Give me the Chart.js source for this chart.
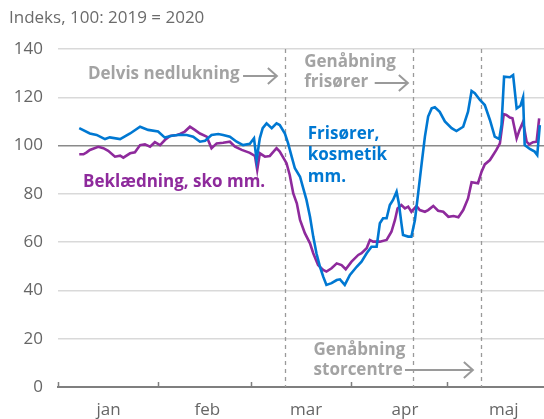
<!DOCTYPE html>
<html>
<head>
<meta charset="utf-8">
<script src="https://cdn.jsdelivr.net/npm/chart.js@4/dist/chart.umd.min.js"></script>
<style>
  html, body { margin: 0; padding: 0; background: #ffffff; }
  #wrap { width: 544px; height: 419px; position: relative; }
</style>
</head>
<body>
<div id="wrap"><canvas id="c" width="544" height="419"></canvas></div>
<script>
// ---- Data (day index: 0 = 1 January 2020) ----
const monthLabels = ['jan', 'feb', 'mar', 'apr', 'maj'];
const monthLabelDays = [15.7, 46.4, 77.1, 107.8, 138.5];
const monthStartDays = [0, 31, 60, 91, 121];
const eventDays = [70.4, 110.4, 131.3];
const yTicks = [0, 20, 40, 60, 80, 100, 120, 140];

const frisorDays = [6.6, 9.9, 12.0, 14.6, 16.1, 19.3, 22.4, 25.5, 28.0, 31.1, 33.2, 35.3, 37.9, 40.0, 42.0, 44.1, 45.7, 47.7, 49.8, 51.3, 53.4, 55.5, 57.5, 59.6, 60.9, 61.7, 62.7, 63.6, 64.8, 66.4, 67.9, 68.9, 70.5, 71.5, 72.6, 73.6, 75.2, 76.2, 77.2, 78.3, 79.3, 80.3, 81.4, 82.4, 83.4, 85.0, 86.6, 87.6, 89.1, 90.7, 92.8, 94.3, 95.9, 97.4, 99.0, 100.0, 101.0, 102.1, 103.1, 104.1, 105.2, 105.9, 106.7, 107.2, 108.8, 109.8, 110.9, 111.9, 113.0, 114.0, 115.0, 116.1, 117.1, 118.6, 120.2, 122.3, 123.8, 125.9, 127.4, 128.5, 129.5, 131.1, 132.6, 134.2, 135.7, 137.1, 137.8, 138.6, 140.4, 141.4, 142.5, 143.7, 144.5, 145.0, 146.6, 148.1, 148.9, 149.7];
const frisorValues = [107.2, 105.0, 104.4, 102.7, 103.4, 102.7, 105.0, 107.8, 106.5, 105.8, 103.3, 104.1, 104.5, 104.4, 103.7, 101.6, 102.0, 104.4, 104.8, 104.4, 103.7, 101.6, 100.2, 100.7, 103.0, 94.0, 103.0, 107.2, 109.2, 107.2, 109.2, 108.5, 105.0, 100.9, 95.4, 90.6, 87.1, 82.3, 77.5, 70.5, 62.3, 55.4, 49.8, 45.7, 42.3, 43.0, 44.3, 44.6, 42.3, 46.4, 49.8, 51.9, 55.4, 58.1, 58.1, 67.8, 69.9, 69.9, 75.4, 77.5, 80.9, 76.1, 67.8, 63.0, 62.3, 62.3, 69.2, 80.2, 92.7, 103.7, 112.0, 115.4, 115.9, 114.0, 110.0, 107.2, 106.0, 107.8, 114.0, 122.6, 121.7, 118.9, 116.8, 110.6, 103.7, 102.7, 108.5, 128.5, 128.3, 129.2, 115.4, 116.5, 120.0, 100.2, 98.6, 97.5, 96.1, 108.5];

const beklDays = [6.6, 7.9, 8.9, 9.9, 12.5, 14.1, 15.6, 17.7, 19.3, 20.3, 22.4, 23.9, 25.5, 27.0, 28.6, 30.1, 31.7, 33.2, 34.8, 36.9, 37.9, 39.4, 41.0, 42.5, 44.1, 46.2, 47.7, 49.3, 51.3, 53.4, 55.0, 57.1, 59.6, 61.2, 61.9, 62.7, 64.3, 65.8, 67.9, 68.9, 71.0, 72.0, 73.1, 74.2, 75.2, 76.7, 78.3, 79.3, 80.8, 82.4, 83.4, 85.0, 86.6, 88.1, 89.4, 91.2, 93.3, 94.3, 95.9, 96.9, 97.9, 100.0, 102.1, 103.6, 104.7, 105.5, 106.7, 107.8, 108.8, 109.8, 111.4, 112.4, 114.0, 115.0, 116.6, 118.1, 119.7, 121.3, 122.9, 124.4, 125.9, 127.4, 128.5, 130.5, 131.6, 132.6, 134.2, 135.2, 136.2, 137.3, 138.5, 139.3, 140.4, 141.2, 142.5, 143.4, 144.5, 145.6, 146.4, 147.6, 148.7, 149.5];
const beklValues = [96.4, 96.4, 97.2, 98.2, 99.5, 98.9, 97.8, 95.4, 95.8, 95.0, 96.8, 97.2, 100.2, 100.5, 99.5, 101.4, 100.2, 102.3, 104.0, 104.4, 104.8, 105.8, 107.8, 106.5, 105.0, 103.7, 98.9, 100.9, 101.2, 101.6, 99.5, 98.2, 97.0, 95.7, 89.9, 96.8, 95.4, 95.7, 98.9, 97.5, 92.7, 87.8, 80.2, 76.1, 69.2, 63.7, 59.5, 55.4, 50.5, 48.5, 47.8, 49.2, 51.2, 50.5, 48.8, 51.9, 54.7, 55.4, 57.5, 60.9, 60.2, 60.2, 60.9, 64.3, 69.2, 74.0, 75.4, 74.0, 74.7, 72.6, 75.0, 73.3, 72.6, 73.3, 75.0, 73.0, 72.6, 70.5, 70.8, 70.3, 73.3, 78.1, 84.8, 84.4, 89.2, 92.2, 94.0, 96.1, 98.2, 100.9, 113.0, 112.7, 111.6, 111.3, 103.0, 106.5, 109.9, 101.6, 100.5, 101.4, 101.6, 111.3];

// ---- Styling ----
const BLUE = '#0078d2';
const PURPLE = '#8e2a9c';
const GREY_TXT = '#a3a3a3';
const FONT = '"Open Sans", "Noto Sans", sans-serif';

function toPoints(xs, ys) { return xs.map((x, i) => ({ x: x, y: ys[i] })); }

// Annotation placement (in data coordinates)
const textNotes = [
  { lines: ['Delvis nedlukning'], day: 9.3, values: [129.7], color: GREY_TXT },
  { lines: ['Genåbning', 'frisører'], day: 76.5, values: [134.6, 126.3], color: GREY_TXT },
  { lines: ['Genåbning', 'storcentre'], day: 79.4, values: [15.3, 7.0], color: GREY_TXT },
  { lines: ['Frisører,', 'kosmetik', 'mm.'], day: 77.6, values: [104.8, 96.1, 87.1], color: BLUE },
  { lines: ['Beklædning, sko mm.'], day: 7.8, values: [85.0], color: PURPLE }
];
const arrows = [
  { from: 57.5, to: 68.0, value: 128.8 },
  { from: 98.4, to: 108.7, value: 125.9 },
  { from: 107.8, to: 128.9, value: 7.0 }
];

const decorPlugin = {
  id: 'decor',
  beforeDatasetsDraw(chart) {
    const ctx = chart.ctx, xs = chart.scales.x, ys = chart.scales.y;
    ctx.save();
    ctx.strokeStyle = '#9a9a9a';
    ctx.lineWidth = 1.3;
    ctx.setLineDash([4, 4]);
    eventDays.forEach(d => {
      const px = Math.round(xs.getPixelForValue(d)) + 0.5;
      ctx.beginPath();
      ctx.moveTo(px, ys.getPixelForValue(140));
      ctx.lineTo(px, ys.getPixelForValue(0));
      ctx.stroke();
    });
    ctx.setLineDash([]);
    ctx.strokeStyle = '#7f7f7f';
    ctx.lineWidth = 1.5;
    const y0 = ys.getPixelForValue(0);
    monthStartDays.forEach(d => {
      const px = Math.round(xs.getPixelForValue(d)) + 0.5;
      ctx.beginPath();
      ctx.moveTo(px, y0);
      ctx.lineTo(px, y0 - 5);
      ctx.stroke();
    });
    ctx.restore();
  },
  afterDraw(chart) {
    const ctx = chart.ctx, xs = chart.scales.x, ys = chart.scales.y;
    ctx.save();
    ctx.font = '17px ' + FONT;
    ctx.fillStyle = '#6b6b6b';
    ctx.textBaseline = 'middle';
    ctx.textAlign = 'left';
    ctx.fillText('Indeks, 100: 2019 = 2020', 9, 18);
    ctx.font = 'bold 17px ' + FONT;
    textNotes.forEach(n => {
      ctx.fillStyle = n.color;
      n.lines.forEach((t, i) => {
        ctx.fillText(t, xs.getPixelForValue(n.day), ys.getPixelForValue(n.values[i]));
      });
    });
    ctx.strokeStyle = '#9a9a9a';
    ctx.lineWidth = 2;
    arrows.forEach(a => {
      const x1 = xs.getPixelForValue(a.from), x2 = xs.getPixelForValue(a.to);
      const y = ys.getPixelForValue(a.value);
      ctx.beginPath();
      ctx.moveTo(x1, y);
      ctx.lineTo(x2, y);
      ctx.moveTo(x2 - 9, y - 8);
      ctx.lineTo(x2, y);
      ctx.lineTo(x2 - 9, y + 8);
      ctx.stroke();
    });
    ctx.restore();
  }
};

new Chart(document.getElementById('c'), {
  type: 'line',
  data: {
    datasets: [
      { label: 'Frisører, kosmetik mm.', data: toPoints(frisorDays, frisorValues),
        borderColor: BLUE, borderWidth: 2.6, pointRadius: 0, tension: 0, fill: false },
      { label: 'Beklædning, sko mm.', data: toPoints(beklDays, beklValues),
        borderColor: PURPLE, borderWidth: 2.6, pointRadius: 0, tension: 0, fill: false }
    ]
  },
  options: {
    responsive: false,
    animation: false,
    events: [],
    layout: { padding: { top: 49, right: 0, bottom: 0, left: 0 } },
    plugins: { legend: { display: false }, tooltip: { enabled: false }, title: { display: false } },
    scales: {
      x: {
        type: 'linear', min: 0, max: 151,
        afterBuildTicks: s => { s.ticks = monthLabelDays.map(v => ({ value: v })); },
        afterFit: s => { s.height = 32; },
        ticks: {
          autoSkip: false, maxRotation: 0, padding: 5,
          color: '#666666', font: { family: FONT, size: 17 },
          callback: (v, i) => monthLabels[i]
        },
        grid: { display: false },
        border: { display: true, color: '#7f7f7f', width: 2 }
      },
      y: {
        min: 0, max: 140,
        afterBuildTicks: s => { s.ticks = yTicks.map(v => ({ value: v })); },
        afterFit: s => { s.width = 58; },
        ticks: { padding: 15, color: '#666666', font: { family: FONT, size: 17 } },
        grid: {
          drawTicks: false, tickLength: 0,
          lineWidth: 1.5,
          color: c => c.tick.value === 100 ? '#8a8a8a' : (c.tick.value === 0 ? 'rgba(0,0,0,0)' : '#d9d9d9')
        },
        border: { display: false }
      }
    }
  },
  plugins: [decorPlugin]
});
</script>
</body>
</html>
